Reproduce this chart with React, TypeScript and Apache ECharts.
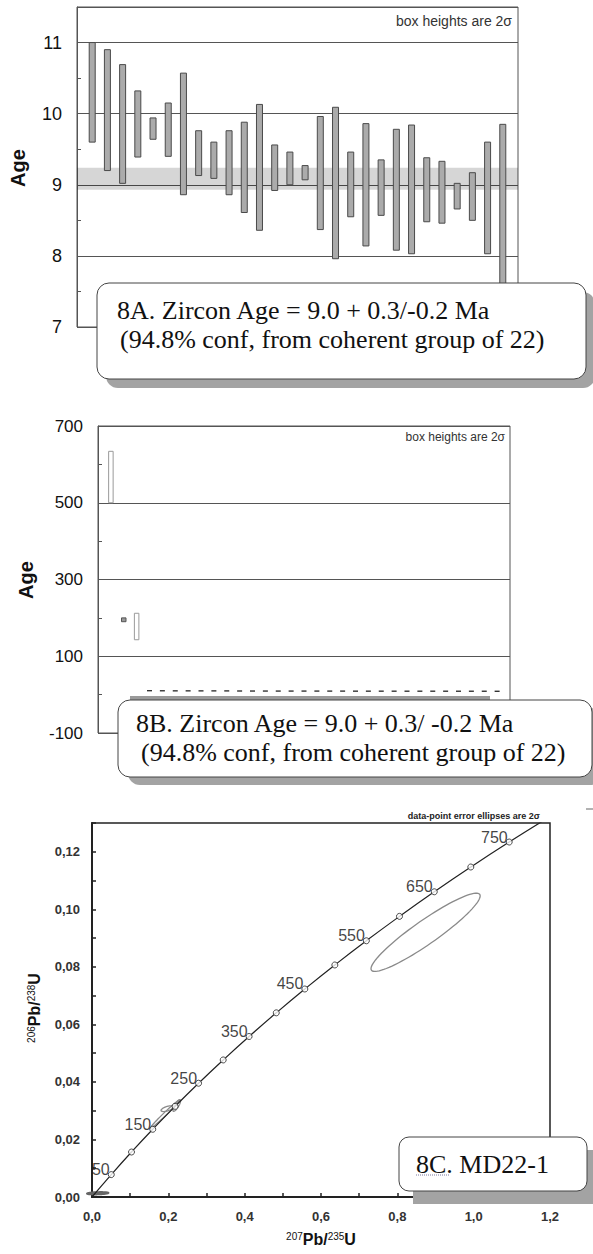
import React, { useEffect, useRef } from "react";
import * as echarts from "echarts";

// ---------- Panel 8A : individual zircon ages (Ma), 2-sigma boxes ----------
const grainNo = [1, 2, 3, 4, 5, 6, 7, 8, 9, 10, 11, 12, 13, 14, 15, 16, 17, 18, 19, 20, 21, 22, 23, 24, 25, 26, 27, 28];
const ageTop = [11.0, 10.9, 10.69, 10.32, 9.94, 10.15, 10.57, 9.76, 9.6, 9.76, 9.88, 10.13, 9.56, 9.46, 9.27, 9.96, 10.09, 9.46, 9.86, 9.35, 9.78, 9.84, 9.38, 9.33, 9.02, 9.17, 9.6, 9.85];
const ageBottom = [9.6, 9.2, 9.02, 9.39, 9.64, 9.4, 8.86, 9.13, 9.09, 8.86, 8.61, 8.36, 8.92, 9.0, 9.07, 8.37, 7.96, 8.55, 8.14, 8.57, 8.08, 8.03, 8.48, 8.46, 8.66, 8.5, 8.03, 7.55];
const meanBand = [8.93, 9.24];
const axisA = [7, 11.5, 1]; // min, max, step
const xRangeA = [0, 29];

// ---------- Panel 8B : all grains incl. inherited ones ----------
const outlierNo = [1, 2, 3];
const outlierTop = [634, 200, 212];
const outlierBottom = [500, 190, 143];
const outlierFilled = [0, 1, 0];
const youngNoB = [4, 5, 6, 7, 8, 9, 10, 11, 12, 13, 14, 15, 16, 17, 18, 19, 20, 21, 22, 23, 24, 25, 26, 27, 28, 29, 30, 31];
const axisB = [-100, 700, 200];
const xRangeB = [0, 32];

// ---------- Panel 8C : concordia ----------
const concAges = [0, 50, 100, 150, 200, 250, 300, 350, 400, 450, 500, 550, 600, 650, 700, 750, 800];
const concX = [0, 0.05048, 0.1035, 0.1592, 0.21771, 0.27917, 0.34374, 0.41156, 0.48281, 0.55766, 0.63628, 0.71887, 0.80563, 0.89677, 0.99251, 1.09308, 1.19873];
const concY = [0, 0.007786, 0.015633, 0.023542, 0.031511, 0.039543, 0.047637, 0.055795, 0.064016, 0.0723, 0.08065, 0.089064, 0.097544, 0.10609, 0.114702, 0.123382, 0.132127];
const concLabelled = [50, 150, 250, 350, 450, 550, 650, 750];
const ellCx = [0.874, 0.191, 0.197, 0.222, 0.015];
const ellCy = [0.092, 0.0288, 0.0307, 0.0318, 0.0013];
const ellDx = [0.143, 0.039, 0.016, 0.01, 0.028];
const ellDy = [0.0136, 0.005, 0.001, 0.002, 0.0004];
const ellRho = [0.93, 0.99, 0.6, 0.8, 0.3];
const ellFilled = [0, 0, 0, 0, 1];
const axisCx = [0, 1.2, 0.2];
const axisCy = [0, 0.13, 0.02];

const SANS = "'Liberation Sans', Arial, sans-serif";
const SERIF = "'Liberation Serif', 'Times New Roman', serif";

function boxRender(w: number, minH: number, fillOn: string, fillOff: string, strokeOn: string, strokeOff: string) {
  return (params: any, api: any) => {
    const x = api.value(0);
    const lo = api.value(1);
    const hi = api.value(2);
    const filled = api.value(3);
    const p1 = api.coord([x, hi]);
    const p2 = api.coord([x, lo]);
    let y = p1[1];
    let h = p2[1] - p1[1];
    if (h < minH) {
      y = (p1[1] + p2[1]) / 2 - minH / 2;
      h = minH;
    }
    return {
      type: "rect",
      shape: { x: p1[0] - w / 2, y, width: w, height: h },
      style: {
        fill: filled ? fillOn : fillOff,
        stroke: filled ? strokeOn : strokeOff,
        lineWidth: 1,
      },
    };
  };
}

function ageAxis(gridIndex: number, ax: number[], fontSize: number) {
  return {
    gridIndex,
    type: "value",
    min: ax[0],
    max: ax[1],
    interval: ax[2],
    axisLine: { show: true, lineStyle: { color: "#555", width: 1 } },
    axisTick: { show: true, inside: true, length: 4, lineStyle: { color: "#555" } },
    minorTick: { show: true, splitNumber: 2, length: 4, lineStyle: { color: "#555" } },
    splitLine: { show: true, lineStyle: { color: "#555", width: 1 } },
    axisLabel: {
      fontSize,
      color: "#111",
      margin: 15,
      fontFamily: SANS,
      formatter: (v: number) => (Number.isInteger(Math.round(v * 1000) / 1000) ? String(Math.round(v)) : ""),
    },
  };
}

export default function App() {
  const ref = useRef<HTMLDivElement>(null);
  useEffect(() => {
    if (!ref.current) return;
    const chart = echarts.init(ref.current, undefined, { renderer: "svg" });

    const barsA = grainNo.map((n, i) => [n, ageBottom[i], ageTop[i], 1]);
    const outB = outlierNo.map((n, i) => [n, outlierBottom[i], outlierTop[i], outlierFilled[i]]);
    const youngB = youngNoB.map((n, i) => [n, ageBottom[i], ageTop[i], 1]);
    const conc = concAges.map((a, i) => [concX[i], concY[i], a]);
    const markers = concAges
      .map((a, i) => ({ value: [concX[i], concY[i], a], label: { show: concLabelled.includes(a) } }))
      .filter((d) => d.value[2] > 0 && d.value[2] < 800);
    const ells = ellCx.map((c, i) => [c, ellCy[i], ellDx[i], ellDy[i], ellRho[i], ellFilled[i]]);

    const boxText = (x: number, y: number, text: string, size: number) => ({
      type: "text",
      x,
      y,
      z: 102,
      style: { text, fontSize: size, fontFamily: SERIF, fill: "#111", align: "left", verticalAlign: "middle" },
    });

    const option: any = {
      animation: false,
      backgroundColor: "#fff",
      grid: [
        { left: 77, top: 7, width: 441, height: 320, show: true, borderColor: "#555", borderWidth: 1 },
        { left: 98, top: 426, width: 412, height: 307, show: true, borderColor: "#555", borderWidth: 1 },
        { left: 92, top: 823, width: 458, height: 374, show: true, borderColor: "#222", borderWidth: 1.5 },
      ],
      xAxis: [
        { gridIndex: 0, type: "value", min: xRangeA[0], max: xRangeA[1], show: false },
        { gridIndex: 1, type: "value", min: xRangeB[0], max: xRangeB[1], show: false },
        {
          gridIndex: 2,
          type: "value",
          min: axisCx[0],
          max: axisCx[1],
          interval: axisCx[2],
          axisLine: { lineStyle: { color: "#222", width: 2 } },
          axisTick: { inside: true, length: 4, lineStyle: { color: "#222", width: 1.5 } },
          minorTick: { show: true, splitNumber: 2, length: 4, lineStyle: { color: "#222", width: 1.5 } },
          splitLine: { show: false },
          axisLabel: {
            fontSize: 13,
            fontWeight: "bold",
            color: "#333",
            margin: 13,
            fontFamily: SANS,
            formatter: (v: number) => v.toFixed(1).replace(".", ","),
          },
        },
      ],
      yAxis: [
        ageAxis(0, axisA, 18),
        ageAxis(1, axisB, 17),
        {
          gridIndex: 2,
          type: "value",
          min: axisCy[0],
          max: axisCy[1],
          interval: axisCy[2],
          axisLine: { lineStyle: { color: "#222", width: 2 } },
          axisTick: { inside: true, length: 4, lineStyle: { color: "#222", width: 1.5 } },
          minorTick: { show: true, splitNumber: 2, length: 4, lineStyle: { color: "#222", width: 1.5 } },
          splitLine: { show: false },
          axisLabel: {
            fontSize: 13,
            fontWeight: "bold",
            color: "#333",
            margin: 12,
            fontFamily: SANS,
            formatter: (v: number) => (v > 0.125 ? "" : v.toFixed(2).replace(".", ",")),
          },
        },
      ],
      series: [
        {
          type: "custom",
          name: "mean band",
          xAxisIndex: 0,
          yAxisIndex: 0,
          z: 1,
          data: [[meanBand[0], meanBand[1]]],
          encode: { y: [0, 1] },
          renderItem: (params: any, api: any) => {
            const p1 = api.coord([xRangeA[0], api.value(1)]);
            const p2 = api.coord([xRangeA[1], api.value(0)]);
            return {
              type: "rect",
              shape: { x: p1[0], y: p1[1], width: p2[0] - p1[0], height: p2[1] - p1[1] },
              style: { fill: "rgba(0,0,0,0.16)" },
            };
          },
        },
        {
          type: "custom",
          name: "grains A",
          xAxisIndex: 0,
          yAxisIndex: 0,
          data: barsA,
          encode: { x: 0, y: [1, 2] },
          renderItem: boxRender(6, 1, "#ababab", "#fff", "#4a4a4a", "#999"),
        },
        {
          type: "custom",
          name: "inherited B",
          xAxisIndex: 1,
          yAxisIndex: 1,
          data: outB,
          encode: { x: 0, y: [1, 2] },
          renderItem: boxRender(4.5, 3, "#999", "#fff", "#555", "#9a9a9a"),
        },
        {
          type: "custom",
          name: "young B",
          xAxisIndex: 1,
          yAxisIndex: 1,
          data: youngB,
          encode: { x: 0, y: [1, 2] },
          renderItem: (params: any, api: any) => {
            const x = api.value(0);
            const p1 = api.coord([x, api.value(2)]);
            const p2 = api.coord([x, api.value(1)]);
            const h = Math.max(1.4, p2[1] - p1[1]);
            const yc = (p1[1] + p2[1]) / 2;
            return {
              type: "rect",
              shape: { x: p1[0] - 2.5, y: yc - h / 2, width: 5, height: h },
              style: { fill: "#333" },
            };
          },
        },
        {
          type: "line",
          name: "concordia",
          xAxisIndex: 2,
          yAxisIndex: 2,
          data: conc,
          smooth: true,
          showSymbol: false,
          clip: true,
          lineStyle: { color: "#222", width: 1.2 },
        },
        {
          type: "custom",
          name: "ellipses",
          xAxisIndex: 2,
          yAxisIndex: 2,
          data: ells,
          encode: { x: 0, y: 1 },
          renderItem: (params: any, api: any) => {
            const cx = api.value(0);
            const cy = api.value(1);
            const dx = api.value(2);
            const dy = api.value(3);
            const rho = api.value(4);
            const filled = api.value(5);
            const s = Math.sqrt(1 - rho * rho);
            const pts: number[][] = [];
            for (let k = 0; k < 90; k++) {
              const t = (k / 90) * Math.PI * 2;
              pts.push(api.coord([cx + dx * Math.cos(t), cy + dy * (rho * Math.cos(t) + s * Math.sin(t))]));
            }
            return {
              type: "polygon",
              shape: { points: pts },
              style: { fill: filled ? "#777" : "none", stroke: filled ? "#666" : "#8a8a8a", lineWidth: filled ? 2 : 1.3 },
            };
          },
        },
        {
          type: "scatter",
          name: "age marks",
          xAxisIndex: 2,
          yAxisIndex: 2,
          data: markers,
          symbol: "circle",
          symbolSize: 6,
          z: 4,
          itemStyle: { color: "#fff", borderColor: "#222", borderWidth: 1 },
          label: {
            show: false,
            position: "left",
            distance: 0,
            offset: [2, -5],
            fontSize: 16,
            fontFamily: SANS,
            color: "#111",
            formatter: (p: any) => String(p.value[2]),
          },
        },
      ],
      graphic: {
        elements: [
          // ---- Panel A decorations ----
          {
            type: "text",
            x: 18,
            y: 168,
            rotation: Math.PI / 2,
            style: { text: "Age", fontSize: 20, fontWeight: "bold", fontFamily: SANS, fill: "#111", align: "center", verticalAlign: "middle" },
          },
          {
            type: "text",
            x: 512,
            y: 21,
            style: { text: "box heights are 2σ", fontSize: 14, fontFamily: SANS, fill: "#333", align: "right", verticalAlign: "middle" },
          },
          { type: "rect", z: 100, shape: { x: 106, y: 292, width: 489, height: 96, r: 12 }, style: { fill: "#a3a3a3" } },
          { type: "rect", z: 101, shape: { x: 97, y: 283, width: 489, height: 96, r: 12 }, style: { fill: "#fff", stroke: "#444", lineWidth: 1 } },
          boxText(117, 310, "8A. Zircon Age = 9.0 + 0.3/-0.2 Ma", 26),
          boxText(120, 339, "(94.8% conf, from coherent group of 22)", 26),

          // ---- Panel B decorations ----
          {
            type: "text",
            x: 26,
            y: 580,
            rotation: Math.PI / 2,
            style: { text: "Age", fontSize: 20, fontWeight: "bold", fontFamily: SANS, fill: "#111", align: "center", verticalAlign: "middle" },
          },
          {
            type: "text",
            x: 505,
            y: 437,
            style: { text: "box heights are 2σ", fontSize: 12, fontFamily: SANS, fill: "#333", align: "right", verticalAlign: "middle" },
          },
          { type: "rect", z: 100, shape: { x: 130, y: 696, width: 360, height: 6 }, style: { fill: "#9a9a9a" } },
          { type: "rect", z: 100, shape: { x: 128, y: 708, width: 474, height: 77, r: 12 }, style: { fill: "#a3a3a3" } },
          { type: "rect", z: 101, shape: { x: 118, y: 700, width: 474, height: 77, r: 12 }, style: { fill: "#fff", stroke: "#444", lineWidth: 1 } },
          boxText(136, 723, "8B. Zircon Age = 9.0 + 0.3/ -0.2 Ma", 26),
          boxText(141, 752, "(94.8% conf, from coherent group of 22)", 26),

          // ---- Panel C decorations ----
          {
            type: "text",
            x: 34,
            y: 1008,
            rotation: Math.PI / 2,
            style: {
              text: "{s|206}{b|Pb/}{s|238}{b|U}",
              align: "center",
              verticalAlign: "middle",
              rich: {
                s: { fontSize: 10, fontFamily: SANS, fill: "#111", verticalAlign: "top" },
                b: { fontSize: 16, fontWeight: "bold", fontFamily: SANS, fill: "#111" },
              },
            },
          },
          {
            type: "text",
            x: 321,
            y: 1239,
            style: {
              text: "{s|207}{b|Pb/}{s|235}{b|U}",
              align: "center",
              verticalAlign: "middle",
              rich: {
                s: { fontSize: 10, fontFamily: SANS, fill: "#111", verticalAlign: "top" },
                b: { fontSize: 16, fontWeight: "bold", fontFamily: SANS, fill: "#111" },
              },
            },
          },
          {
            type: "text",
            x: 540,
            y: 816,
            style: { text: "data-point error ellipses are 2σ", fontSize: 9, fontWeight: "bold", fontFamily: SANS, fill: "#222", align: "right", verticalAlign: "middle" },
          },
          { type: "line", shape: { x1: 586, y1: 809, x2: 593, y2: 809 }, style: { stroke: "#999", lineWidth: 1.5 } },
          { type: "rect", z: 100, shape: { x: 413, y: 1150, width: 185, height: 54 }, style: { fill: "#a3a3a3" } },
          { type: "rect", z: 101, shape: { x: 399, y: 1137, width: 188, height: 54, r: 10 }, style: { fill: "#fff", stroke: "#444", lineWidth: 1 } },
          boxText(416, 1164, "8C. MD22-1", 26),
          { type: "line", z: 103, shape: { x1: 416, y1: 1175, x2: 449, y2: 1175 }, style: { stroke: "#7a7aa0", lineWidth: 1, lineDash: [1, 1] } },
        ],
      },
    };
    chart.setOption(option);
    return () => chart.dispose();
  }, []);
  return <div ref={ref} style={{ position: "absolute", left: 0, top: 0, width: 593, height: 1254 }} />;
}
